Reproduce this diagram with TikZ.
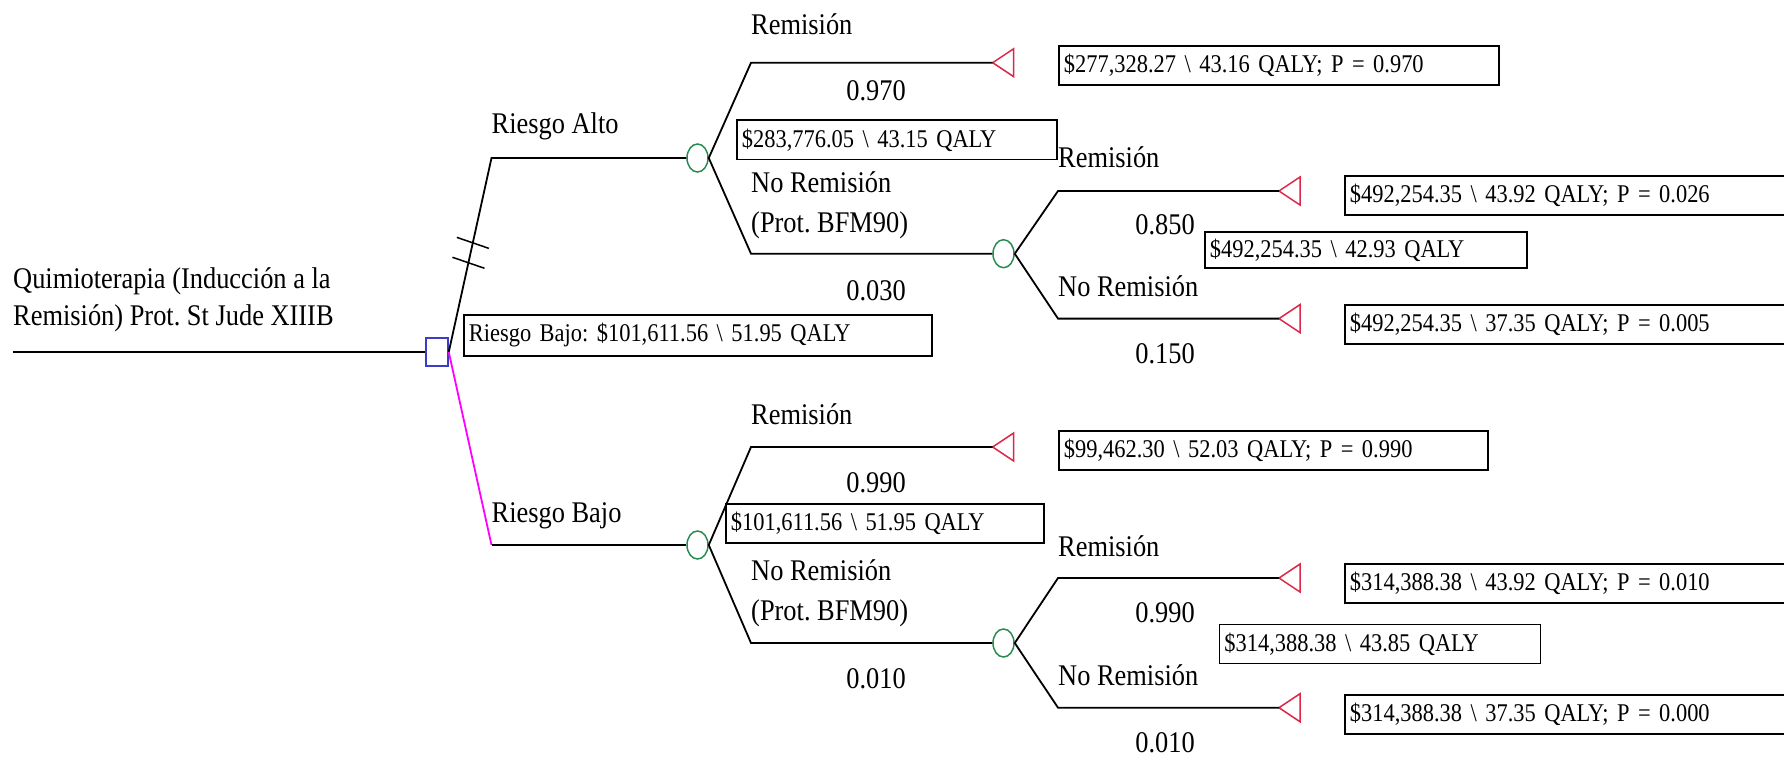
\documentclass[tikz,border=0pt]{standalone}
\usepackage{fontspec}
\setmainfont{Liberation Serif}[FakeStretch=0.88]
\newfontfamily\valfam{Liberation Serif}[FakeStretch=0.88, WordSpace=0.75]
\usetikzlibrary{shapes.geometric,calc}
\definecolor{nodeblue}{RGB}{60,60,200}
\definecolor{nodegreen}{RGB}{40,140,80}
\definecolor{nodered}{RGB}{220,40,70}
\definecolor{branchmag}{RGB}{255,0,255}
\newcommand\labfont{\fontsize{30}{40}\selectfont}
\newcommand\valfont{\valfam\fontsize{25.5}{30}\selectfont}
\frenchspacing
\begin{document}
\begin{tikzpicture}[x=1pt,y=-1pt,
  branch/.style={line width=1.8pt, black},
  decision/.style={rectangle, draw=nodeblue, line width=1.5pt, minimum width=22pt, minimum height=28pt, inner sep=0pt},
  chance/.style={ellipse, draw=nodegreen, line width=1.5pt, minimum width=21pt, minimum height=28pt, inner sep=0pt},
  terminal/.style={draw=nodered, line width=1.5pt, line join=miter},
  lab/.style={font=\labfont, inner sep=0pt, anchor=base west, align=left},
  prob/.style={font=\labfont, inner sep=0pt, anchor=base},
  valbox/.style={draw, fill=white, line width=1.8pt, font=\valfont, anchor=north west, inner xsep=5pt, inner ysep=0pt, align=left, minimum height=39pt},
]
\useasboundingbox (0,0) rectangle (1784,757);
\clip (0,0) rectangle (1784,757);

% nodes
\coordinate (r0) at (13,352);
\node[decision] (sq) at (437,352) {};
\coordinate (a1) at (491.5,158);
\coordinate (b1) at (491.5,545);
\node[chance] (c1) at (697.5,158) {};
\node[chance] (c2) at (697.5,545) {};
\coordinate (c1u) at (751,62.7);
\coordinate (c1d) at (751,253.7);
\coordinate (c2u) at (751,447);
\coordinate (c2d) at (751,643);
\node[chance] (c11) at (1003.5,253.7) {};
\node[chance] (c21) at (1003.5,643) {};
\coordinate (c11u) at (1058,191);
\coordinate (c11d) at (1058,318.6);
\coordinate (c21u) at (1058,578);
\coordinate (c21d) at (1058,707.7);
\coordinate (t1) at (992.7,62.7);
\coordinate (t2) at (992.7,447);
\coordinate (t11) at (1279,191);
\coordinate (t12) at (1279,318.6);
\coordinate (t21) at (1279,578);
\coordinate (t22) at (1279,707.7);

% terminals
\foreach \t in {t1,t2,t11,t12,t21,t22}{
  \draw[terminal] (\t) -- ++(21,-14) -- ++(0,28) -- cycle;
}

% branches
\draw[branch] (r0) -- (sq.west);
\draw[branch] (sq.east) -- (a1) -- (c1.west);
\draw[line width=1.8pt, branchmag] (sq.east) -- (b1);
\draw[branch] (b1) -- (c2.west);
\draw[branch] (c1.east) -- (c1u) -- (t1);
\draw[branch] (c1.east) -- (c1d) -- (c11.west);
\draw[branch] (c11.east) -- (c11u) -- (t11);
\draw[branch] (c11.east) -- (c11d) -- (t12);
\draw[branch] (c2.east) -- (c2u) -- (t2);
\draw[branch] (c2.east) -- (c2d) -- (c21.west);
\draw[branch] (c21.east) -- (c21u) -- (t21);
\draw[branch] (c21.east) -- (c21d) -- (t22);

% tick marks on the high-risk branch
\draw[line width=1.5pt] ($(sq.east)!0.5626!(a1)+(-16,-5.5)$) -- ($(sq.east)!0.5626!(a1)+(16,5.5)$);
\draw[line width=1.5pt] ($(sq.east)!0.46!(a1)+(-16,-5.5)$) -- ($(sq.east)!0.46!(a1)+(16,5.5)$);

% labels (multi-line nodes: base anchor = last line)
\node[lab, font=\fontsize{30}{37}\selectfont] (rootlab) at (13,325) {Quimioterapia (Inducción a la\\Remisión) Prot. St Jude XIIIB};
\node[lab] (rAlto) at (491.5,133) {Riesgo Alto};
\node[lab] (rBajo) at (491.5,522) {Riesgo Bajo};
\node[lab] (rem1) at (751,35) {Remisión};
\node[prob] (p1) at (876,101) {0.970};
\node[lab] (nrem1) at (751,232.7) {No Remisión\\(Prot. BFM90)};
\node[prob] (p2) at (876,300) {0.030};
\node[lab] (rem11) at (1058,167) {Remisión};
\node[prob] (p11) at (1165,234) {0.850};
\node[lab] (nrem11) at (1058,296) {No Remisión};
\node[prob] (p12) at (1165,363) {0.150};
\node[lab] (rem2) at (751,424) {Remisión};
\node[prob] (p3) at (876,492) {0.990};
\node[lab] (nrem2) at (751,620) {No Remisión\\(Prot. BFM90)};
\node[prob] (p4) at (876,688) {0.010};
\node[lab] (rem21) at (1058,556) {Remisión};
\node[prob] (p21) at (1165,622) {0.990};
\node[lab] (nrem21) at (1058,685) {No Remisión};
\node[prob] (p22) at (1165,752) {0.010};

% value boxes
\node[valbox, text width=458pt, minimum height=41pt] (vroot) at (463,314) {Riesgo Bajo: \$101,611.56 \textbackslash{} 51.95 QALY};
\node[valbox, text width=310pt] (v1) at (736,119.5) {\$283,776.05 \textbackslash{} 43.15 QALY};
\node[valbox, text width=430pt] (vt1) at (1058,45) {\$277,328.27 \textbackslash{} 43.16 QALY; P = 0.970};
\node[valbox, text width=312pt, minimum height=36pt] (v11) at (1204,231) {\$492,254.35 \textbackslash{} 42.93 QALY};
\node[valbox, text width=450pt] (vt11) at (1344,175) {\$492,254.35 \textbackslash{} 43.92 QALY; P = 0.026};
\node[valbox, text width=450pt] (vt12) at (1344,304) {\$492,254.35 \textbackslash{} 37.35 QALY; P = 0.005};
\node[valbox, text width=308pt] (v2) at (725,503) {\$101,611.56 \textbackslash{} 51.95 QALY};
\node[valbox, text width=419pt] (vt2) at (1058,430) {\$99,462.30 \textbackslash{} 52.03 QALY; P = 0.990};
\node[valbox, text width=311pt] (v21) at (1218.5,623.5) {\$314,388.38 \textbackslash{} 43.85 QALY};
\node[valbox, text width=450pt] (vt21) at (1344,563) {\$314,388.38 \textbackslash{} 43.92 QALY; P = 0.010};
\node[valbox, text width=450pt] (vt22) at (1344,694) {\$314,388.38 \textbackslash{} 37.35 QALY; P = 0.000};
\end{tikzpicture}
\end{document}
